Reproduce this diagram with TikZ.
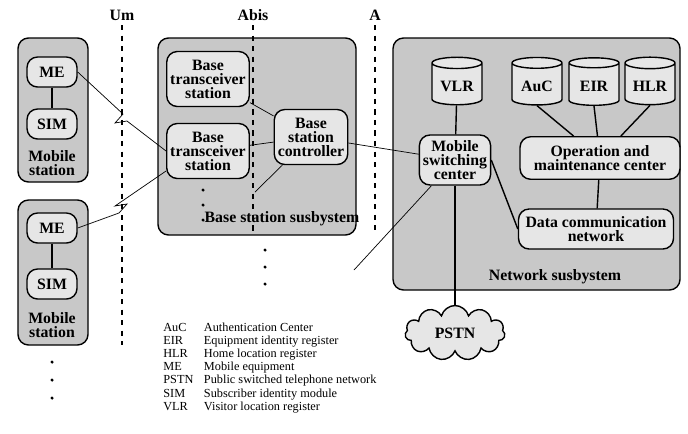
\documentclass[tikz,border=0pt]{standalone}
\usepackage{fontspec}
\setmainfont{Liberation Serif}
\usetikzlibrary{shapes.geometric,shapes.symbols,calc}
\definecolor{grp}{HTML}{C8C8C8}
\definecolor{box}{HTML}{E6E6E6}
\tikzset{
  group/.style={draw, thick, rounded corners=6pt, fill=grp},
  unit/.style={draw, thick, rounded corners=6pt, fill=box, font=\bfseries\small, align=center, inner sep=2pt},
  store/.style={draw, thick, cylinder, shape border rotate=90, aspect=0.25, fill=box, font=\bfseries\small, minimum width=1.0cm, minimum height=0.95cm},
  iface/.style={dashed, thick},
  dotmark/.style={circle, fill, inner sep=0.7pt},
  lbl/.style={font=\bfseries\small, align=center}
}
\begin{document}
\begin{tikzpicture}[x=0.02cm, y=-0.02cm, thin]
\useasboundingbox (0,0) rectangle (688,433);
% groups
\draw[group] (18,38) rectangle (88,182);
\draw[group] (18,200) rectangle (88,345);
\draw[group] (158,38) rectangle (356,235);
\draw[group] (393,38) rectangle (680,290);
% interfaces
\draw[iface] (122,25) -- (122,345);
\draw[iface] (253,25) -- (253,235);
\draw[iface] (375,25) -- (375,230);
\node[lbl] (um) at (122,15) {Um};
\node[lbl] (abis) at (253,15) {Abis};
\node[lbl] (a) at (375,15) {A};
% mobile stations
\node[unit, minimum width=1.0cm, minimum height=0.6cm] (me1) at (52,72) {ME};
\node[unit, minimum width=1.0cm, minimum height=0.6cm] (sim1) at (52,124) {SIM};
\node[lbl] (ms1) at (52,163) {Mobile\\[-3pt]station};
\node[unit, minimum width=1.0cm, minimum height=0.6cm] (me2) at (52,228) {ME};
\node[unit, minimum width=1.0cm, minimum height=0.6cm] (sim2) at (52,284) {SIM};
\node[lbl] (ms2) at (52,325) {Mobile\\[-3pt]station};
\draw[thick] (me1) -- (sim1);
\draw[thick] (me2) -- (sim2);
\foreach \y in {362,380,398} \node[dotmark] at (52,\y) {};
% base station subsystem
\node[unit, minimum width=1.6cm, minimum height=1.1cm] (bts1) at (208,79) {Base\\[-3pt]transceiver\\[-3pt]station};
\node[unit, minimum width=1.6cm, minimum height=1.1cm] (bts2) at (208,151) {Base\\[-3pt]transceiver\\[-3pt]station};
\node[unit, minimum width=1.4cm, minimum height=1.1cm] (bsc) at (311,137) {Base\\[-3pt]station\\[-3pt]controller};
\foreach \y in {190,205,220} \node[dotmark] at (203,\y) {};
\coordinate (bdots) at (255,192);
\node[lbl] (bss) at (282,219) {Base station susbystem};
\foreach \y in {250,267,284} \node[dotmark] at (265,\y) {};
% radio links
\coordinate (z1) at (121,121);
\coordinate (z2) at (121,206);
\draw (me1.east) -- ($(z1)+(2,-7)$) -- ($(z1)+(-6,2)$) -- ($(z1)+(6,0)$) -- (bts2.west);
\draw (me2.east) -- ($(z2)+(-2,7)$) -- ($(z2)+(6,-2)$) -- ($(z2)+(-6,0)$) -- ($(bts2.west)+(0,20)$);
\draw (bts1) -- (bsc);
\draw (bts2) -- (bsc);
\draw (bdots) -- (bsc);
% network subsystem
\node[store] (vlr) at (457,86) {VLR};
\node[store] (auc) at (537,86) {AuC};
\node[store] (eir) at (594,86) {EIR};
\node[store] (hlr) at (650,86) {HLR};
\node[unit, minimum width=1.4cm, minimum height=1.0cm] (msc) at (455,160) {Mobile\\[-3pt]switching\\[-3pt]center};
\node[unit, minimum width=3.2cm, minimum height=0.85cm] (omc) at (600,158) {Operation and\\[-3pt]maintenance center};
\node[unit, minimum width=3.1cm, minimum height=0.8cm] (dcn) at (596,229) {Data communication\\[-3pt]network};
\node[lbl] (nss) at (555,277) {Network susbystem};
\node[cloud, draw, thick, fill=box, cloud puffs=11, aspect=2.4, minimum width=2.0cm, minimum height=1.1cm, font=\bfseries\small] (pstn) at (455,333) {PSTN};
\coordinate (free) at (354,270);
\draw (bsc) -- (msc);
\draw[thick] (msc) -- (vlr);
\draw[thick] (msc.east) -- (dcn.west);
\draw (msc) -- (free);
\draw[thick] (msc) -- (pstn);
\draw[thick] (omc) -- (auc.south);
\draw[thick] (omc) -- (eir.south);
\draw[thick] (omc) -- (hlr.south);
\draw[thick] (omc) -- (dcn);
% legend
\node[anchor=north west, font=\scriptsize, inner sep=0pt] (legend) at (163,321) {%
\begin{tabular}{@{}l@{\hspace{6pt}}l@{}}
AuC & Authentication Center\\[-0.5pt]
EIR & Equipment identity register\\[-0.5pt]
HLR & Home location register\\[-0.5pt]
ME & Mobile equipment\\[-0.5pt]
PSTN & Public switched telephone network\\[-0.5pt]
SIM & Subscriber identity module\\[-0.5pt]
VLR & Visitor location register
\end{tabular}};
\end{tikzpicture}
\end{document}
